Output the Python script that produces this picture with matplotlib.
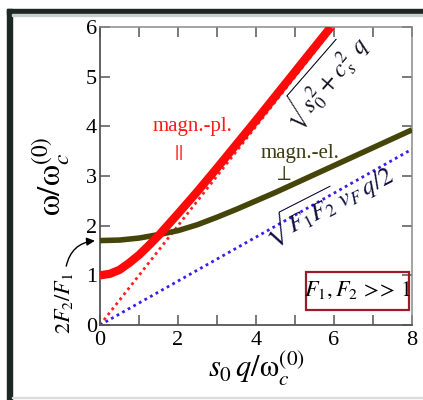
import matplotlib
matplotlib.use("Agg")
import matplotlib.pyplot as plt
from matplotlib.patches import Rectangle

plt.rcParams['font.family'] = ['Liberation Serif', 'DejaVu Serif']
plt.rcParams['mathtext.fontset'] = 'stix'

# magneto-plasmon branch (parallel)
x_pl = [0, 0.25, 0.5, 0.75, 1.0, 1.25, 1.5, 1.75, 2.0, 2.5, 3.0, 3.5, 4.0, 4.5, 5.0, 5.5, 5.92]
y_pl = [1.00, 1.03, 1.11, 1.25, 1.41, 1.60, 1.80, 2.02, 2.24, 2.69, 3.16, 3.64, 4.12, 4.61, 5.10, 5.59, 6.00]

# magneto-electron branch (perpendicular)
x_el = [0, 0.5, 1.0, 1.5, 2.0, 2.5, 3.0, 3.5, 4.0, 4.5, 5.0, 5.5, 6.0, 6.5, 7.0, 7.5, 8.0]
y_el = [1.70, 1.71, 1.75, 1.82, 1.90, 2.02, 2.17, 2.33, 2.50, 2.67, 2.85, 3.03, 3.21, 3.39, 3.57, 3.75, 3.93]

# asymptotes
x_asym_pl = [0, 6.0]
y_asym_pl = [0, 6.0]
x_asym_el = [0, 8.0]
y_asym_el = [0, 3.54]

x_ticks = [0, 2, 4, 6, 8]
y_ticks = [0, 1, 2, 3, 4, 5, 6]

W, H = 423, 400
fig = plt.figure(figsize=(W / 100, H / 100), dpi=100)
fig.patch.set_facecolor('white')

# dark frame bands
dark = '#1d2824'
fig.patches.append(Rectangle((7 / W, 0), 5 / W, (H - 9) / H, transform=fig.transFigure,
                             color=dark, zorder=0))
fig.patches.append(Rectangle((7 / W, (H - 14) / H), 1 - 7 / W, 5 / H, transform=fig.transFigure,
                             color=dark, zorder=0))
fig.patches.append(Rectangle((12 / W, (H - 16) / H), 1 - 12 / W, 2 / H, transform=fig.transFigure,
                             color='#c9cfcc', zorder=0))
fig.patches.append(Rectangle((12 / W, 2 / H), 1 - 12 / W, 1.5 / H, transform=fig.transFigure,
                             color='#dcdcdc', zorder=0))

ax = fig.add_axes([100 / W, 75 / H, 312 / W, 298 / H])
ax.set_xlim(0, 8)
ax.set_ylim(0, 6)

ax.plot(x_asym_pl, y_asym_pl, color='#ff2020', lw=2.0, linestyle=(0, (1, 1.3)), zorder=2)
ax.plot(x_asym_el, y_asym_el, color='#3a1cf0', lw=2.0, linestyle=(0, (1, 1.3)), zorder=2)
ax.plot(x_el, y_el, color='#45450a', lw=4.0, solid_capstyle='butt', zorder=3)
ax.plot(x_pl, y_pl, color='#ff0a0a', lw=6.0, solid_capstyle='butt', zorder=4)

# ticks and spines
ax.set_xticks(x_ticks)
ax.set_xticks([1, 3, 5, 7], minor=True)
ax.set_yticks(y_ticks)
ax.tick_params(which='both', direction='in', length=7, width=1.1, color='#555555',
               top=True, right=True, labelsize=16, pad=4)
ax.tick_params(axis='y', pad=2)
for side in ['left', 'bottom']:
    ax.spines[side].set_color('#555555')
    ax.spines[side].set_linewidth(1.3)
for side in ['right', 'top']:
    ax.spines[side].set_color('#8a8a8a')
    ax.spines[side].set_linewidth(1.1)

ax.set_xlabel(r'$s_0\,q/\mathrm{\omega}_c^{(0)}$', fontsize=22, labelpad=0)
ax.set_ylabel(r'$\mathrm{\omega}/\mathrm{\omega}_c^{(0)}$', fontsize=24, labelpad=10)

# branch labels
ax.text(2.38, 3.99, 'magn.-pl.', color='#ff1a1a', fontsize=15, ha='center', va='center')
ax.text(2.0, 3.42, r'$||$', color='#ff1a1a', fontsize=15, ha='center', va='center')
ax.text(5.14, 3.46, 'magn.-el.', color='#3c3c10', fontsize=15, ha='center', va='center')
ax.text(4.68, 3.0, r'$\perp$', color='#3c3c10', fontsize=15, ha='center', va='center')

# asymptote formulas
ax.text(5.76, 4.92, r'$\sqrt{s_0^2+c_s^2}\;q$', fontsize=18, rotation=49,
        ha='center', va='center', color='#101020')
ax.text(5.85, 2.42, r'$\sqrt{F_1F_2}\,v_F\,q/2$', fontsize=18, rotation=27,
        ha='center', va='center', color='#101040')

# parameter box
ax.add_patch(Rectangle((5.29, 0.30), 2.64, 0.77, fill=False, ec='#9a1c2a', lw=1.6, zorder=5))
ax.text(6.61, 0.70, r'$F_1, F_2\,>\!\!>\,1$', fontsize=16, ha='center', va='center', zorder=6)

# intercept annotation
ax.text(-0.93, 0.44, r'$2F_2/F_1$', fontsize=16, rotation=90, ha='center', va='center',
        clip_on=False)
ax.annotate('', xy=(-0.06, 1.70), xytext=(-0.88, 1.13), xycoords='data',
            arrowprops=dict(arrowstyle='-|>', connectionstyle='arc3,rad=-0.4',
                            color='black', lw=1.0, mutation_scale=12),
            annotation_clip=False)

fig.savefig('out.png', dpi=100)
